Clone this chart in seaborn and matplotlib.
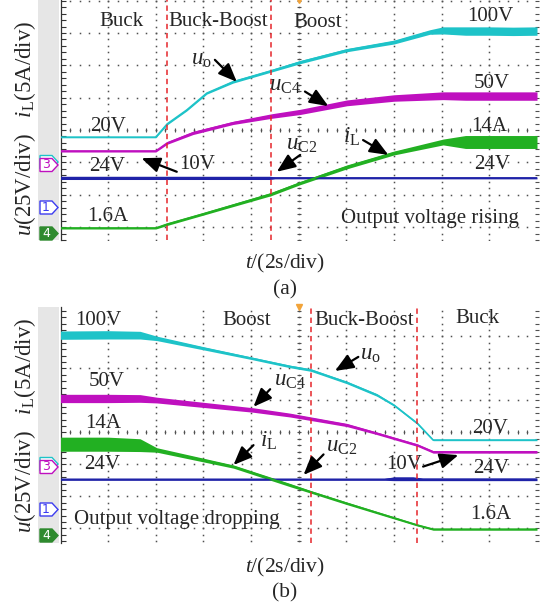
import numpy as np
import pandas as pd
import matplotlib
matplotlib.use("Agg")
import matplotlib.pyplot as plt
from matplotlib.patches import Polygon, Rectangle
import seaborn as sns

sns.set_theme(style="white")
plt.rcParams["font.family"] = ["Liberation Serif", "DejaVu Serif"]
plt.rcParams["mathtext.fontset"] = "custom"
plt.rcParams["mathtext.rm"] = "Liberation Serif"
plt.rcParams["mathtext.it"] = "Liberation Serif:italic"
plt.rcParams["mathtext.bf"] = "Liberation Serif:bold"

# ---------------- data (time in div, value in div) ----------------
# Panel (a): output voltage rising
a_uo_t = [0, 2.0, 2.24, 2.65, 3.07, 3.62, 4.42, 5.03, 6.01, 7.0, 7.75, 8.03, 8.5, 9.0, 9.5, 10.0]
a_uo_v = [2.78, 2.78, 3.19, 3.62, 4.14, 4.49, 4.83, 5.10, 5.47, 5.72, 6.03, 6.08, 6.06, 6.06, 6.05, 6.06]
a_uo_w = [0.02, 0.02, 0.03, 0.03, 0.03, 0.04, 0.04, 0.05, 0.05, 0.06, 0.07, 0.11, 0.13, 0.13, 0.13, 0.13]

a_uc4_t = [0, 2.0, 2.24, 2.78, 3.62, 4.42, 5.03, 6.01, 7.0, 8.03, 8.5, 9.0, 9.5, 10.0]
a_uc4_v = [2.35, 2.35, 2.60, 2.91, 3.22, 3.43, 3.56, 3.84, 3.99, 4.06, 4.05, 4.05, 4.05, 4.05]
a_uc4_w = [0.03, 0.03, 0.04, 0.05, 0.05, 0.07, 0.08, 0.09, 0.10, 0.12, 0.13, 0.13, 0.13, 0.13]

a_uc2_t = [0, 4.4, 4.5, 10.0]
a_uc2_v = [1.52, 1.52, 1.52, 1.52]
a_uc2_w = [0.05, 0.05, 0.03, 0.03]

a_il_t = [0, 2.0, 2.24, 3.0, 4.42, 5.03, 6.01, 7.0, 8.03, 8.5, 9.0, 9.5, 10.0]
a_il_v = [-0.03, -0.03, 0.09, 0.41, 1.02, 1.36, 1.86, 2.29, 2.63, 2.63, 2.63, 2.63, 2.63]
a_il_w = [0.03, 0.03, 0.04, 0.04, 0.05, 0.05, 0.06, 0.06, 0.09, 0.20, 0.20, 0.20, 0.20]

a_mode_x = [2.24, 4.41]

# Panel (b): output voltage dropping
b_uo_t = [0, 1.0, 1.67, 2.02, 3.0, 4.0, 4.82, 5.25, 6.01, 6.64, 7.0, 7.49, 7.82, 8.5, 9.0, 10.0]
b_uo_v = [6.04, 6.05, 6.04, 5.94, 5.63, 5.32, 5.06, 4.95, 4.56, 4.17, 3.85, 3.28, 2.76, 2.76, 2.76, 2.76]
b_uo_w = [0.13, 0.13, 0.12, 0.07, 0.05, 0.04, 0.04, 0.04, 0.04, 0.04, 0.03, 0.03, 0.02, 0.02, 0.02, 0.02]

b_uc4_t = [0, 1.0, 1.67, 2.02, 4.04, 4.82, 6.01, 6.64, 7.49, 7.82, 8.5, 9.0, 10.0]
b_uc4_v = [4.06, 4.06, 4.06, 4.01, 3.70, 3.54, 3.23, 2.97, 2.60, 2.39, 2.39, 2.39, 2.39]
b_uc4_w = [0.13, 0.13, 0.12, 0.09, 0.07, 0.06, 0.05, 0.04, 0.04, 0.04, 0.04, 0.04, 0.04]

b_uc2_t = [0, 6.8, 7.0, 7.4, 7.6, 10.0]
b_uc2_v = [1.53, 1.53, 1.55, 1.55, 1.53, 1.53]
b_uc2_w = [0.03, 0.03, 0.06, 0.06, 0.04, 0.04]

b_il_t = [0, 1.0, 1.67, 2.02, 3.63, 4.82, 5.25, 6.01, 7.49, 7.82, 8.5, 9.0, 10.0]
b_il_v = [2.63, 2.63, 2.60, 2.45, 1.93, 1.35, 1.14, 0.78, 0.10, -0.03, -0.03, -0.03, -0.03]
b_il_w = [0.22, 0.22, 0.20, 0.07, 0.05, 0.05, 0.04, 0.04, 0.03, 0.03, 0.03, 0.03, 0.03]

b_mode_x = [5.25, 7.49]

C_UO = "#1ec3c8"
C_UC4 = "#bf10bf"
C_UC2 = "#1f22a8"
C_IL = "#22b022"
C_RED = "#e6262b"

W, H = 547, 605
fig = plt.figure(figsize=(W / 100, H / 100), dpi=100)


def fx(px):
    return px / W


def fy(py):
    return 1 - py / H


AX_L, AX_R = 60.5, 537.0
ax_a = fig.add_axes([fx(AX_L), fy(240), (AX_R - AX_L) / W, 240 / H])
ax_b = fig.add_axes([fx(AX_L), fy(543), (AX_R - AX_L) / W, (543 - 306.7) / H])
ylims = {ax_a: (-0.40, 7.02), ax_b: (-0.46, 6.93)}


def draw_grid(ax):
    y0, y1 = ylims[ax]
    ax.set_xlim(0, 10)
    ax.set_ylim(y0, y1)
    gc = "#505050"
    ys = np.arange(np.ceil(y0 * 5) / 5, y1, 0.2)
    for gx in range(1, 10):
        ax.plot([gx] * len(ys), ys, ls="none", marker="s", ms=1.1, mec="none", mfc=gc, zorder=1)
    xs = np.arange(0.2, 10, 0.2)
    for gy in range(0, int(np.floor(y1)) + 1):
        ax.plot(xs, [gy] * len(xs), ls="none", marker="s", ms=1.1, mec="none", mfc=gc, zorder=1)
    # centre crosshair minor ticks
    ax.plot([5] * len(ys), ys, ls="none", marker="_", ms=3, mew=0.8, color=gc, zorder=1)
    ax.plot(xs, [3] * len(xs), ls="none", marker="|", ms=3, mew=0.8, color=gc, zorder=1)
    # right border
    ax.plot([10] * len(ys), ys, ls="none", marker="_", ms=3.5, mew=0.8, color=gc, zorder=1, clip_on=False)
    for s in ["top", "bottom", "right"]:
        ax.spines[s].set_visible(False)
    ax.spines["left"].set_color("#333333")
    ax.spines["left"].set_linewidth(0.9)
    ax.set_xticks([])
    ax.set_yticks(ys)
    ax.tick_params(axis="y", direction="in", length=3.5, width=0.8, color="#333333", labelleft=False, left=True)
    ax.set_xlabel("")
    ax.set_ylabel("")
    ax.plot([5], [y1], marker="v", color="#f2a43a", ms=4, clip_on=False, zorder=5)


def trace(ax, t, v, w, color, lw=1.2):
    t = np.asarray(t, float)
    v = np.asarray(v, float)
    w = np.asarray(w, float)
    ax.fill_between(t, v - w, v + w, color=color, lw=0, zorder=3)
    df = pd.DataFrame({"t": t, "v": v})
    sns.lineplot(data=df, x="t", y="v", ax=ax, color=color, lw=lw, estimator=None, sort=False, zorder=4)


for ax in (ax_a, ax_b):
    draw_grid(ax)

trace(ax_a, a_uc2_t, a_uc2_v, a_uc2_w, C_UC2)
trace(ax_a, a_uo_t, a_uo_v, a_uo_w, C_UO)
trace(ax_a, a_uc4_t, a_uc4_v, a_uc4_w, C_UC4)
trace(ax_a, a_il_t, a_il_v, a_il_w, C_IL)
trace(ax_b, b_uc2_t, b_uc2_v, b_uc2_w, C_UC2)
trace(ax_b, b_uo_t, b_uo_v, b_uo_w, C_UO)
trace(ax_b, b_uc4_t, b_uc4_v, b_uc4_w, C_UC4)
trace(ax_b, b_il_t, b_il_v, b_il_w, C_IL)

for ax, xs in ((ax_a, a_mode_x), (ax_b, b_mode_x)):
    for x in xs:
        ax.axvline(x, color=C_RED, lw=1.1, ls=(0, (3.5, 2.5)), zorder=6)
    ax.set_xlabel("")
    ax.set_ylabel("")

FS = 15


def txt(ax, x, y, s, fs=FS, **kw):
    ax.text(x, y, s, fontsize=fs, ha="center", va="center", zorder=8, **kw)


def arrow(ax, tail, head):
    ax.annotate("", xy=head, xytext=tail,
                arrowprops=dict(arrowstyle="-|>,head_length=0.8,head_width=0.33", lw=1.6,
                                color="black", shrinkA=0, shrinkB=0, mutation_scale=14),
                zorder=9)


# panel (a) annotations
txt(ax_a, 1.27, 6.35, "Buck")
txt(ax_a, 3.31, 6.35, "Buck-Boost")
txt(ax_a, 5.39, 6.32, "Boost")
txt(ax_a, 9.01, 6.50, "100V")
txt(ax_a, 9.05, 4.44, "50V")
txt(ax_a, 8.99, 3.10, "14A")
txt(ax_a, 9.05, 1.92, "24V")
txt(ax_a, 7.75, 0.27, "Output voltage rising")
txt(ax_a, 1.00, 3.12, "20V")
txt(ax_a, 0.97, 1.87, "24V")
txt(ax_a, 2.86, 1.92, "10V")
txt(ax_a, 0.99, 0.32, "1.6A")
txt(ax_a, 2.96, 5.17, r"$u_{\mathrm{o}}$", fs=16.5)
txt(ax_a, 4.71, 4.39, r"$u_{\mathrm{C4}}$", fs=16.5)
txt(ax_a, 5.07, 2.56, r"$u_{\mathrm{C2}}$", fs=16.5)
txt(ax_a, 6.11, 2.79, r"$i_{\mathrm{L}}$", fs=16.5)
arrow(ax_a, (3.24, 5.17), (3.70, 4.49))
arrow(ax_a, (5.13, 4.19), (5.62, 3.74))
arrow(ax_a, (5.03, 2.23), (4.54, 1.71))
arrow(ax_a, (6.35, 2.69), (6.88, 2.23))
arrow(ax_a, (2.44, 1.71), (1.70, 2.13))

# panel (b) annotations
txt(ax_b, 0.79, 6.51, "100V")
txt(ax_b, 3.91, 6.51, "Boost")
txt(ax_b, 6.38, 6.51, "Buck-Boost")
txt(ax_b, 8.74, 6.56, "Buck")
txt(ax_b, 0.96, 4.60, "50V")
txt(ax_b, 0.90, 3.28, "14A")
txt(ax_b, 0.87, 1.98, "24V")
txt(ax_b, 2.44, 0.29, "Output voltage dropping")
txt(ax_b, 9.01, 3.13, "20V")
txt(ax_b, 7.21, 1.98, "10V")
txt(ax_b, 9.03, 1.88, "24V")
txt(ax_b, 9.03, 0.42, "1.6A")
txt(ax_b, 4.82, 4.63, r"$u_{\mathrm{C4}}$", fs=16.5)
txt(ax_b, 4.36, 2.73, r"$i_{\mathrm{L}}$", fs=16.5)
txt(ax_b, 6.50, 5.44, r"$u_{\mathrm{o}}$", fs=16.5)
txt(ax_b, 5.90, 2.55, r"$u_{\mathrm{C2}}$", fs=16.5)
arrow(ax_b, (4.40, 4.35), (4.05, 3.80))
arrow(ax_b, (4.05, 2.60), (3.63, 1.98))
arrow(ax_b, (6.25, 5.36), (5.76, 4.92))
arrow(ax_b, (5.52, 2.31), (5.10, 1.67))
arrow(ax_b, (7.61, 1.93), (8.35, 2.29))

# left strip, channel tags, labels
for top, bot in ((0, 240), (306.7, 543)):
    fig.add_artist(Rectangle((fx(38), fy(bot)), (59 - 38) / W, (bot - top) / H,
                             transform=fig.transFigure, color="#e6e6e6", lw=0, zorder=0))


def tag(yc, edge, face, tc, label):
    pts = [(40, yc - 6.5), (52, yc - 6.5), (58, yc), (52, yc + 6.5), (40, yc + 6.5)]
    fig.add_artist(Polygon([(fx(px), fy(py)) for px, py in pts], closed=True,
                           transform=fig.transFigure, facecolor=face, edgecolor=edge, lw=1.0, zorder=5))
    fig.text(fx(46), fy(yc), label, color=tc, fontsize=9, ha="center", va="center",
             family="DejaVu Sans", zorder=6)


for off in (0, 302):
    tag(162 + off, C_UO, "white", C_UO, "")
    tag(165 + off, C_UC4, "white", C_UC4, "3")
    tag(207.5 + off, "#3c3cf0", "white", "#3c3cf0", "1")
    tag(233.5 + off, "#2e8a2e", "#2e8a2e", "white", "4")

YL = r"$u$(25V/div)   $i_{\mathrm{L}}$(5A/div)"
fig.text(fx(25), fy(128), YL, rotation=90, fontsize=16.5, ha="center", va="center")
fig.text(fx(25), fy(425), YL, rotation=90, fontsize=16.5, ha="center", va="center")

fig.text(fx(285), fy(263), r"$t$/(2s/div)", fontsize=15.5, ha="center", va="center")
fig.text(fx(285), fy(290), "(a)", fontsize=15.5, ha="center", va="center")
fig.text(fx(285), fy(567), r"$t$/(2s/div)", fontsize=15.5, ha="center", va="center")
fig.text(fx(285), fy(593), "(b)", fontsize=15.5, ha="center", va="center")

fig.savefig("out.png", dpi=100)
